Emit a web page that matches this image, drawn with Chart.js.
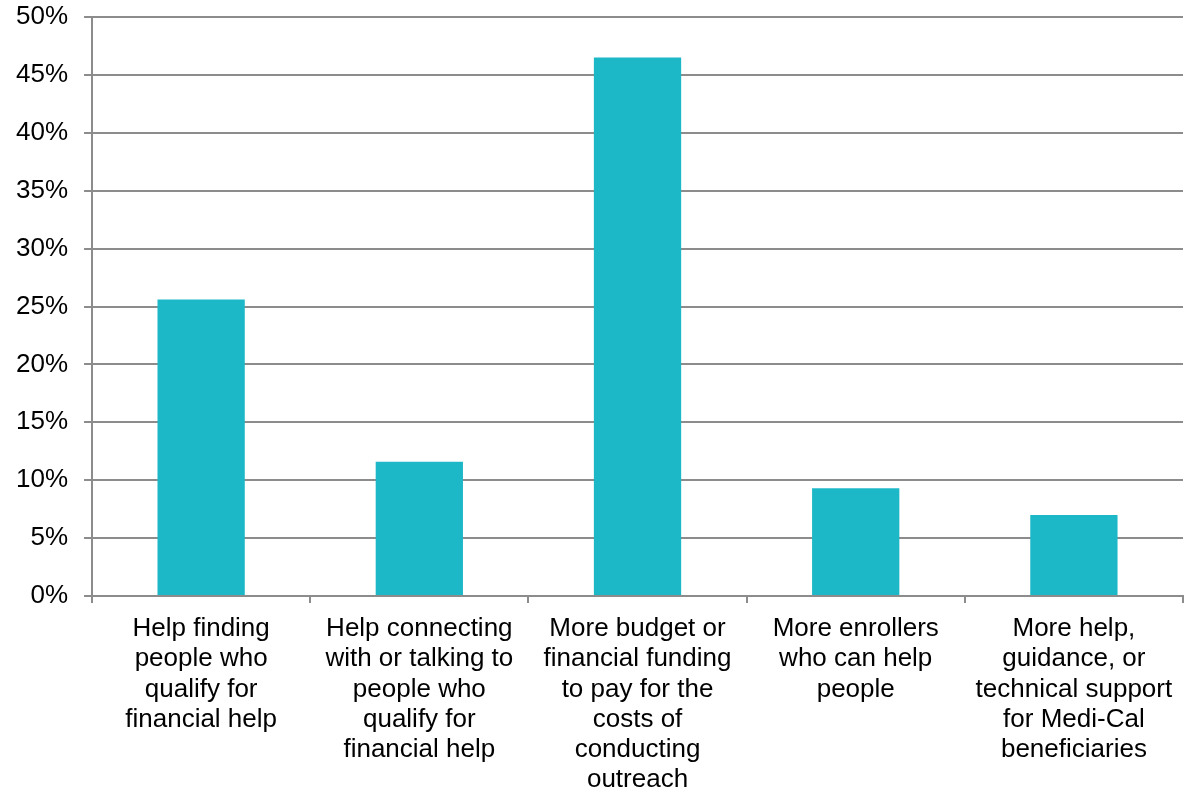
<!DOCTYPE html>
<html lang="en">
<head>
<meta charset="UTF-8">
<title>Outreach needs</title>
<script src="https://cdn.jsdelivr.net/npm/chart.js"></script>
<style>
  html, body { margin: 0; padding: 0; background: #fff; }
  #wrap { width: 1192px; height: 791px; }
</style>
</head>
<body>
<div id="wrap"><canvas id="grafico"></canvas></div>
<script>
const categorias = [
    ['Help finding', 'people who', 'qualify for', 'financial help'],
    ['Help connecting', 'with or talking to', 'people who', 'qualify for', 'financial help'],
    ['More budget or', 'financial funding', 'to pay for the', 'costs of', 'conducting', 'outreach'],
    ['More enrollers', 'who can help', 'people'],
    ['More help,', 'guidance, or', 'technical support', 'for Medi-Cal', 'beneficiaries']
];
const valores = [25.6, 11.6, 46.5, 9.3, 7.0];
const eixoY = { min: 0, max: 50, passo: 5 };

const fonte = { family: 'Arial, "Liberation Sans", sans-serif', size: 26 };

new Chart(document.getElementById('grafico'), {
    type: 'bar',
    data: {
        labels: categorias,
        datasets: [{
            data: valores,
            backgroundColor: '#1cb8c8',
            borderWidth: 0,
            categoryPercentage: 1,
            barPercentage: 0.4
        }]
    },
    options: {
        responsive: true,
        maintainAspectRatio: false,
        animation: false,
        layout: { padding: { left: 0, right: 9, top: 0, bottom: 0 } },
        plugins: { legend: { display: false }, tooltip: { enabled: false } },
        scales: {
            x: {
                grid: { drawOnChartArea: false, drawTicks: true, tickLength: 7, color: '#8c8c8c', lineWidth: 2, offset: true },
                border: { color: '#8c8c8c', width: 2 },
                ticks: { color: '#000', font: { ...fonte, lineHeight: 1.16 }, maxRotation: 0, autoSkip: false, padding: 11 },
                afterFit: escala => { escala.height = 195; }
            },
            y: {
                min: eixoY.min,
                max: eixoY.max,
                grid: { color: '#8c8c8c', lineWidth: 2, tickLength: 8 },
                border: { color: '#8c8c8c', width: 2 },
                ticks: {
                    stepSize: eixoY.passo,
                    color: '#000',
                    font: { ...fonte, lineHeight: 1 },
                    padding: 16,
                    callback: v => v + '%'
                },
                afterFit: escala => { escala.paddingTop = 17; }
            }
        }
    }
});
</script>
</body>
</html>
